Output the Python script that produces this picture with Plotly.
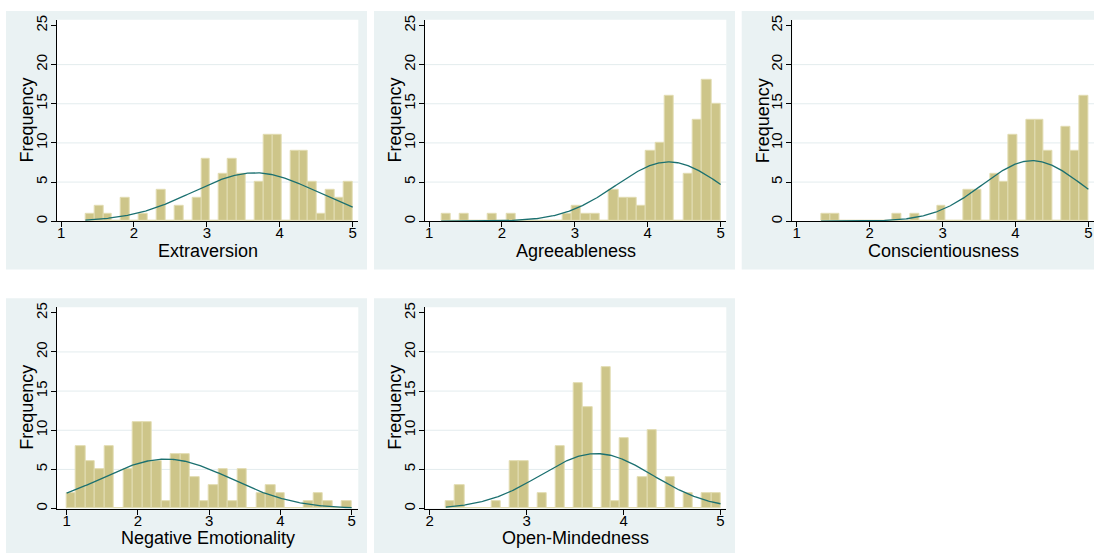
import numpy as np
import plotly.graph_objects as go

# Big Five trait scores, 30-bin frequency histograms with normal overlays
traits = ["Extraversion", "Agreeableness", "Conscientiousness",
          "Negative Emotionality", "Open-Mindedness"]

extraversion_counts = [1, 2, 1, 0, 3, 0, 1, 0, 4, 0, 2, 0, 3, 8, 0,
                       6, 8, 6, 0, 5, 11, 11, 0, 9, 9, 5, 1, 4, 3, 5]
agreeableness_counts = [1, 0, 1, 0, 0, 1, 0, 1, 0, 0, 0, 0, 0, 1, 2,
                        1, 1, 0, 4, 3, 3, 2, 9, 10, 16, 0, 6, 13, 18, 15]
conscientiousness_counts = [1, 1, 0, 0, 0, 0, 0, 0, 1, 0, 1, 0, 0, 2, 0,
                            0, 4, 4, 0, 6, 5, 11, 0, 13, 13, 9, 0, 12, 9, 16]
negative_emotionality_counts = [2, 8, 6, 5, 8, 0, 5, 11, 11, 6, 1, 7, 7, 4, 1,
                                3, 5, 1, 5, 0, 2, 3, 2, 0, 0, 1, 2, 1, 0, 1]
open_mindedness_counts = [1, 3, 0, 0, 0, 1, 0, 6, 6, 0, 2, 0, 8, 0, 16,
                          13, 0, 18, 1, 9, 0, 4, 10, 0, 4, 0, 2, 0, 2, 2]

# observed minimum / maximum of each scale (histogram spans these)
score_min = [4 / 3, 7 / 6, 4 / 3, 1.0, 13 / 6]
score_max = [5.0, 5.0, 5.0, 5.0, 5.0]

# sample mean and standard deviation for the normal density
score_mean = [3.66, 4.29, 4.23, 2.39, 3.72]
score_sd = [0.852, 0.727, 0.681, 0.91, 0.58]

x_tick_values = [[1, 2, 3, 4, 5]] * 4 + [[2, 3, 4, 5]]
y_tick_values = [0, 5, 10, 15, 20, 25]
grid_values = [5, 10, 15, 20]

all_counts = [extraversion_counts, agreeableness_counts, conscientiousness_counts,
              negative_emotionality_counts, open_mindedness_counts]

# ---- page geometry (pixels) ----
W, H = 1094, 555
FONT = "Liberation Sans, Arial, sans-serif"
BG = "#EAF2F3"
BAR_FILL = "rgb(205,197,137)"
BAR_EDGE = "rgb(226,220,178)"
CURVE = "rgb(27,112,112)"

# panel frames: (left, top) of each grey region; plot area inside it
panel_origin = [(6, 6), (374, 6), (741.7, 6), (6, 297), (374, 297)]
panel_size = (361, 262)
plot_offset_x = (50.7, 352.3)   # plot area left/right relative to panel left
plot_offset_y = (9, 213)        # plot area top/bottom relative to panel top
x_ranges = [[0.94, 5.077], [0.94, 5.077], [0.94, 5.077], [0.86, 5.093], [1.948, 5.06]]
y_range = [0, 25.72]


def fx(px):
    return min(max(px / W, 0.0), 1.0)


def fy(py):
    return min(max(1 - py / H, 0.0), 1.0)


fig = go.Figure()
shapes = []
annotations = []
layout_axes = {}

for i, (name, counts) in enumerate(zip(traits, all_counts)):
    n = i + 1
    xa = "x" if n == 1 else f"x{n}"
    ya = "y" if n == 1 else f"y{n}"
    counts = np.array(counts, dtype=float)
    nbins = len(counts)
    width = (score_max[i] - score_min[i]) / nbins
    edges = score_min[i] + width * np.arange(nbins + 1)
    centers = (edges[:-1] + edges[1:]) / 2

    fig.add_trace(go.Bar(
        x=centers, y=counts, width=width, xaxis=xa, yaxis=ya,
        marker=dict(color=BAR_FILL, line=dict(color=BAR_EDGE, width=1)),
        showlegend=False, hoverinfo="skip",
    ))

    total = counts.sum()
    xs = np.linspace(score_min[i], score_max[i], 300)
    dens = np.exp(-0.5 * ((xs - score_mean[i]) / score_sd[i]) ** 2) / (score_sd[i] * np.sqrt(2 * np.pi))
    fig.add_trace(go.Scatter(
        x=xs, y=total * width * dens, mode="lines", xaxis=xa, yaxis=ya,
        line=dict(color=CURVE, width=1.3), showlegend=False, hoverinfo="skip",
    ))

    left, top = panel_origin[i]
    x0, x1 = left + plot_offset_x[0], left + plot_offset_x[1]
    y0, y1 = top + plot_offset_y[0], top + plot_offset_y[1]

    # grey panel and white plot region
    shapes.append(dict(type="rect", xref="paper", yref="paper", layer="below",
                       x0=fx(left), x1=fx(left + panel_size[0]),
                       y0=fy(top + panel_size[1]), y1=fy(top),
                       fillcolor=BG, line=dict(width=0)))
    shapes.append(dict(type="rect", xref="paper", yref="paper", layer="below",
                       x0=fx(x0), x1=fx(x1), y0=fy(y1), y1=fy(y0),
                       fillcolor="white", line=dict(width=0)))
    for g in grid_values:
        shapes.append(dict(type="line", xref=f"{xa} domain", yref=ya, layer="below",
                           x0=0, x1=1, y0=g, y1=g,
                           line=dict(color="#E3ECEE", width=1)))

    layout_axes["xaxis" if n == 1 else f"xaxis{n}"] = dict(
        domain=[fx(x0), fx(x1)], anchor=ya, range=x_ranges[i],
        tickvals=x_tick_values[i], ticks="outside", ticklen=5, tickwidth=1,
        tickcolor="black", showline=True, linecolor="black", linewidth=1.2,
        showgrid=False, zeroline=False, fixedrange=True, ticklabelstandoff=-7,
        tickfont=dict(family=FONT, size=15, color="black"),
    )
    layout_axes["yaxis" if n == 1 else f"yaxis{n}"] = dict(
        domain=[fy(y1), fy(y0)], anchor=xa, range=y_range,
        tickvals=y_tick_values, ticks="outside", ticklen=5, tickwidth=1,
        tickcolor="black", showline=True, linecolor="black", linewidth=1.2,
        tickangle=-90, showgrid=False, zeroline=False, fixedrange=True,
        ticklabelstandoff=-2,
        tickfont=dict(family=FONT, size=15, color="black"),
    )

    annotations.append(dict(text=name, xref="paper", yref="paper",
                            x=fx((x0 + x1) / 2), y=fy(y1 + 30),
                            xanchor="center", yanchor="middle", showarrow=False,
                            font=dict(family=FONT, size=18, color="black")))
    annotations.append(dict(text="Frequency", xref="paper", yref="paper",
                            x=fx(left + 21), y=fy((y0 + y1) / 2), textangle=-90,
                            xanchor="center", yanchor="middle", showarrow=False,
                            font=dict(family=FONT, size=18, color="black")))

fig.update_layout(
    width=W, height=H, margin=dict(l=0, r=0, t=0, b=0),
    paper_bgcolor="white", plot_bgcolor="rgba(0,0,0,0)",
    bargap=0, shapes=shapes, annotations=annotations,
    **layout_axes,
)

fig.write_html("out.html", config={"displayModeBar": False})
